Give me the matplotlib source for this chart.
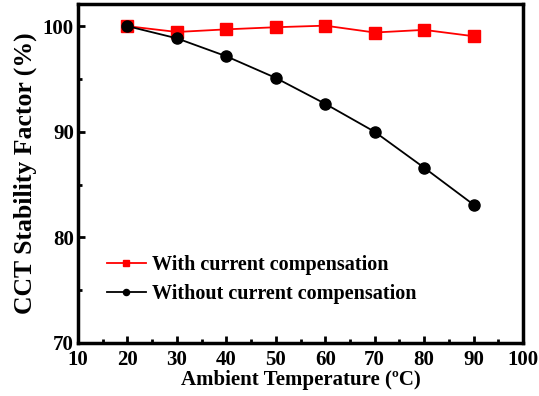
import matplotlib.pyplot as plt
from matplotlib.ticker import MultipleLocator

temps = [20, 30, 40, 50, 60, 70, 80, 90]
with_comp = [100.0, 99.45, 99.7, 99.9, 100.05, 99.4, 99.65, 99.05]
without_comp = [100.0, 98.85, 97.15, 95.1, 92.65, 90.0, 86.6, 83.1]

plt.rcParams['font.family'] = ['Liberation Serif', 'DejaVu Serif']
plt.rcParams['font.weight'] = 'bold'

fig = plt.figure(figsize=(5.39, 3.96), dpi=100)
ax = fig.add_axes([78/539, 1 - 343/396, 445/539, 339/396])

ax.plot(temps, with_comp, color='red', marker='s', markersize=8.5, lw=1.3,
        label='With current compensation')
ax.plot(temps, without_comp, color='black', marker='o', markersize=8, lw=1.3,
        label='Without current compensation')

ax.set_xlim(10, 100)
ax.set_ylim(70, 102.1)
ax.xaxis.set_major_locator(MultipleLocator(10))
ax.xaxis.set_minor_locator(MultipleLocator(5))
ax.yaxis.set_major_locator(MultipleLocator(10))
ax.yaxis.set_minor_locator(MultipleLocator(5))
ax.tick_params(which='both', direction='in', top=False, right=False,
               labelsize=15, width=2)
ax.tick_params(which='major', length=5)
ax.tick_params(which='minor', length=3)
ax.tick_params(axis='x', pad=5)
ax.tick_params(axis='y', pad=3)
for lab in ax.get_xticklabels() + ax.get_yticklabels():
    lab.set_fontweight('bold')
for s in ax.spines.values():
    s.set_linewidth(2.5)

ax.set_xlabel('Ambient Temperature (\u00baC)', fontsize=15, fontweight='bold', labelpad=0)
ax.set_ylabel('CCT Stability Factor (%)', fontsize=18.5, fontweight='bold', labelpad=4)

ax.legend(loc='lower left', bbox_to_anchor=(0.025, 0.062), frameon=False,
          markerscale=0.55, handlelength=1.9, handletextpad=0.3,
          labelspacing=0.45, prop={'weight': 'bold', 'size': 14.5})

fig.savefig('out.png', dpi=100)
